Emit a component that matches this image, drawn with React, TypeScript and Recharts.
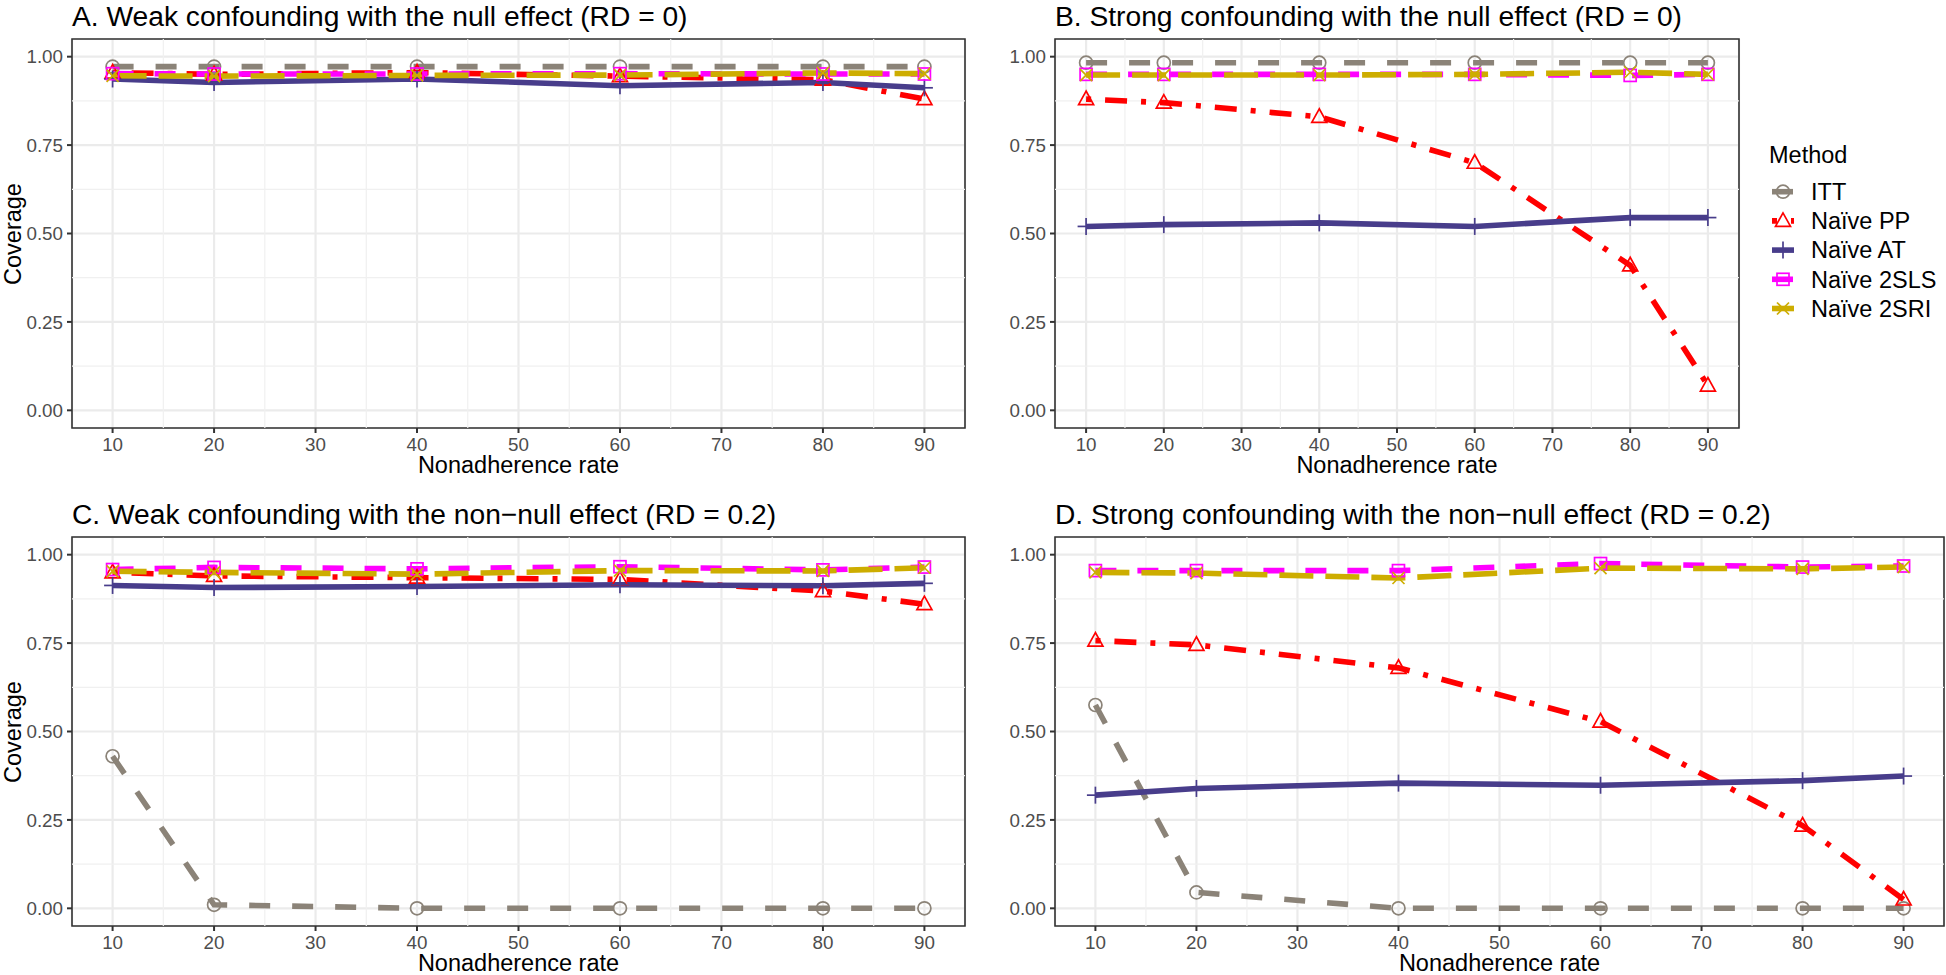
import {
  LineChart,
  Line,
  XAxis,
  YAxis,
  CartesianGrid,
  ReferenceLine,
  ReferenceArea,
} from 'recharts'

const rates = [10, 20, 40, 60, 80, 90]
const rateTicks = [10, 20, 30, 40, 50, 60, 70, 80, 90]
const rateMinor = [15, 25, 35, 45, 55, 65, 75, 85]
const coverageTicks = [0, 0.25, 0.5, 0.75, 1]
const coverageMinor = [0.125, 0.375, 0.625, 0.875]

// A. weak confounding, null effect
const ittA = [0.972, 0.972, 0.972, 0.972, 0.972, 0.972]
const ppA  = [0.955, 0.95, 0.955, 0.945, 0.935, 0.88]
const atA  = [0.937, 0.927, 0.937, 0.918, 0.927, 0.912]
const slsA = [0.952, 0.951, 0.951, 0.952, 0.951, 0.951]
const sriA = [0.946, 0.945, 0.947, 0.948, 0.954, 0.952]

// B. strong confounding, null effect
const ittB = [0.983, 0.983, 0.983, 0.983, 0.983, 0.983]
const ppB  = [0.88, 0.87, 0.83, 0.7, 0.41, 0.07]
const atB  = [0.52, 0.525, 0.53, 0.52, 0.545, 0.545]
const slsB = [0.95, 0.95, 0.95, 0.95, 0.947, 0.95]
const sriB = [0.948, 0.948, 0.948, 0.95, 0.956, 0.95]

// C. weak confounding, RD = 0.2
const ittC = [0.43, 0.01, 0, 0, 0, 0]
const ppC  = [0.95, 0.94, 0.935, 0.93, 0.897, 0.86]
const atC  = [0.913, 0.907, 0.91, 0.915, 0.912, 0.919]
const slsC = [0.958, 0.964, 0.96, 0.966, 0.957, 0.965]
const sriC = [0.953, 0.95, 0.945, 0.955, 0.954, 0.963]

// D. strong confounding, RD = 0.2
const ittD = [0.575, 0.045, 0, 0, 0, 0]
const ppD  = [0.757, 0.745, 0.68, 0.528, 0.234, 0.025]
const atD  = [0.32, 0.339, 0.354, 0.348, 0.361, 0.374]
const slsD = [0.955, 0.955, 0.955, 0.975, 0.965, 0.968]
const sriD = [0.95, 0.948, 0.934, 0.962, 0.96, 0.965]

const methods = [
  { key: 'ITT', name: 'ITT',        color: '#8B8378', dash: '21 22',      shape: 'circle' },
  { key: 'PP',  name: 'Naïve PP',   color: '#FF0000', dash: '5 14 22 14', shape: 'triangle' },
  { key: 'AT',  name: 'Naïve AT',   color: '#483D8B', dash: undefined,    shape: 'plus' },
  { key: 'SLS', name: 'Naïve 2SLS', color: '#FF00FF', dash: '21 21',      shape: 'square' },
  { key: 'SRI', name: 'Naïve 2SRI', color: '#CDAD00', dash: '34 12',      shape: 'cross' },
]

const buildRows = (itt: number[], pp: number[], at: number[], sls: number[], sri: number[]) =>
  rates.map((rate, i) => ({ rate, ITT: itt[i], PP: pp[i], AT: at[i], SLS: sls[i], SRI: sri[i] }))

const FONT = '"Liberation Sans", Arial, Helvetica, sans-serif'
const PLOT_H = 389
const Y_W = 60
const X_H = 40

const Marker = ({ shape, color, cx, cy }: { shape: string; color: string; cx: number; cy: number }) => {
  const sw = 1.7
  if (shape === 'circle') return <circle cx={cx} cy={cy} r={6.5} fill="none" stroke={color} strokeWidth={sw} />
  if (shape === 'triangle')
    return (
      <polygon
        points={`${cx},${cy - 8} ${cx - 7.5},${cy + 5.5} ${cx + 7.5},${cy + 5.5}`}
        fill="none"
        stroke={color}
        strokeWidth={sw}
      />
    )
  if (shape === 'plus')
    return (
      <g stroke={color} strokeWidth={sw}>
        <line x1={cx - 8.5} y1={cy} x2={cx + 8.5} y2={cy} />
        <line x1={cx} y1={cy - 8.5} x2={cx} y2={cy + 8.5} />
      </g>
    )
  if (shape === 'square')
    return <rect x={cx - 6} y={cy - 6} width={12} height={12} fill="none" stroke={color} strokeWidth={sw} />
  return (
    <g stroke={color} strokeWidth={sw}>
      <line x1={cx - 6} y1={cy - 6} x2={cx + 6} y2={cy + 6} />
      <line x1={cx - 6} y1={cy + 6} x2={cx + 6} y2={cy - 6} />
    </g>
  )
}

interface PanelProps {
  title: string
  rows: ReturnType<typeof buildRows>
  left: number
  top: number
  plotW: number
}

const Panel = ({ title, rows, left, top, plotW }: PanelProps) => {
  const tickStyle = { fontSize: 18.8, fill: '#4d4d4d', fontFamily: FONT }
  return (
    <>
      <div
        style={{
          position: 'absolute',
          left,
          top: top - 37,
          fontSize: 28.2,
          lineHeight: '28px',
          whiteSpace: 'nowrap',
          color: '#000',
        }}
      >
        {title}
      </div>
      <div style={{ position: 'absolute', left: left - Y_W, top: top - 2 }}>
        <LineChart
          width={Y_W + plotW + 2}
          height={2 + PLOT_H + X_H}
          data={rows}
          margin={{ top: 2, right: 2, bottom: 0, left: 0 }}
        >
          <CartesianGrid stroke="#ebebeb" strokeWidth={2.2} />
          {rateMinor.map((x) => (
            <ReferenceLine key={`vx${x}`} x={x} stroke="#f0f0f0" strokeWidth={1.2} />
          ))}
          {coverageMinor.map((y) => (
            <ReferenceLine key={`hy${y}`} y={y} stroke="#f0f0f0" strokeWidth={1.2} />
          ))}
          <XAxis
            dataKey="rate"
            type="number"
            domain={[6, 94]}
            ticks={rateTicks}
            allowDataOverflow
            height={X_H}
            tickSize={5}
            tickMargin={5}
            axisLine={false}
            tickLine={{ stroke: '#333333', strokeWidth: 2 }}
            tick={tickStyle}
          />
          <YAxis
            type="number"
            domain={[-0.05, 1.05]}
            ticks={coverageTicks}
            allowDataOverflow
            width={Y_W}
            tickSize={5}
            tickMargin={4}
            axisLine={false}
            tickLine={{ stroke: '#333333', strokeWidth: 2 }}
            tick={tickStyle}
            tickFormatter={(v: number) => v.toFixed(2)}
          />
          {methods.map((m) => (
            <Line
              key={`l-${m.key}`}
              type="linear"
              dataKey={m.key}
              stroke={m.color}
              strokeWidth={5.6}
              strokeDasharray={m.dash}
              dot={false}
              activeDot={false}
              isAnimationActive={false}
            />
          ))}
          {methods.map((m) => (
            <Line
              key={`p-${m.key}`}
              type="linear"
              dataKey={m.key}
              stroke="none"
              strokeWidth={0}
              dot={(p: any) => (
                <Marker key={`${m.key}-${p.index}`} shape={m.shape} color={m.color} cx={p.cx} cy={p.cy} />
              )}
              activeDot={false}
              isAnimationActive={false}
            />
          ))}
          <ReferenceArea
            x1={6}
            x2={94}
            y1={-0.05}
            y2={1.05}
            fill="none"
            stroke="#333333"
            strokeWidth={1.6}
            ifOverflow="visible"
          />
        </LineChart>
      </div>
      <div
        style={{
          position: 'absolute',
          left,
          width: plotW,
          top: top + PLOT_H + 26,
          textAlign: 'center',
          fontSize: 23.5,
          lineHeight: '23.5px',
          color: '#000',
        }}
      >
        Nonadherence rate
      </div>
      {left < 200 && (
        <div
          style={{
            position: 'absolute',
            left: 13,
            top: top + PLOT_H / 2,
            transform: 'translate(-50%, -50%) rotate(-90deg)',
            fontSize: 23.5,
            lineHeight: '16px',
            whiteSpace: 'nowrap',
            color: '#000',
          }}
        >
          Coverage
        </div>
      )}
    </>
  )
}

const MethodLegend = () => (
  <svg
    width={206}
    height={200}
    style={{ position: 'absolute', left: 1740, top: 130 }}
    fontFamily={FONT}
  >
    <text x={29} y={33.3} fontSize={23.5} fill="#000">
      Method
    </text>
    {methods.map((m, i) => {
      const cy = 61.7 + i * 29.2
      return (
        <g key={m.key}>
          <line x1={32} x2={54} y1={cy} y2={cy} stroke={m.color} strokeWidth={5.6} strokeDasharray={m.dash} />
          <Marker shape={m.shape} color={m.color} cx={43} cy={cy} />
          <text x={71} y={cy + 8.3} fontSize={23.5} fill="#000">
            {m.name}
          </text>
        </g>
      )
    })}
  </svg>
)

const App = () => (
  <div
    style={{
      position: 'absolute',
      left: 0,
      top: 0,
      width: 1946,
      height: 975,
      background: '#fff',
      fontFamily: FONT,
      overflow: 'hidden',
    }}
  >
    <Panel
      title="A. Weak confounding with the null effect (RD = 0)"
      rows={buildRows(ittA, ppA, atA, slsA, sriA)}
      left={72}
      top={39}
      plotW={893}
    />
    <Panel
      title="B. Strong confounding with the null effect (RD = 0)"
      rows={buildRows(ittB, ppB, atB, slsB, sriB)}
      left={1055}
      top={39}
      plotW={684}
    />
    <Panel
      title="C. Weak confounding with the non−null effect (RD = 0.2)"
      rows={buildRows(ittC, ppC, atC, slsC, sriC)}
      left={72}
      top={537}
      plotW={893}
    />
    <Panel
      title="D. Strong confounding with the non−null effect (RD = 0.2)"
      rows={buildRows(ittD, ppD, atD, slsD, sriD)}
      left={1055}
      top={537}
      plotW={889}
    />
    <MethodLegend />
  </div>
)

export default App
